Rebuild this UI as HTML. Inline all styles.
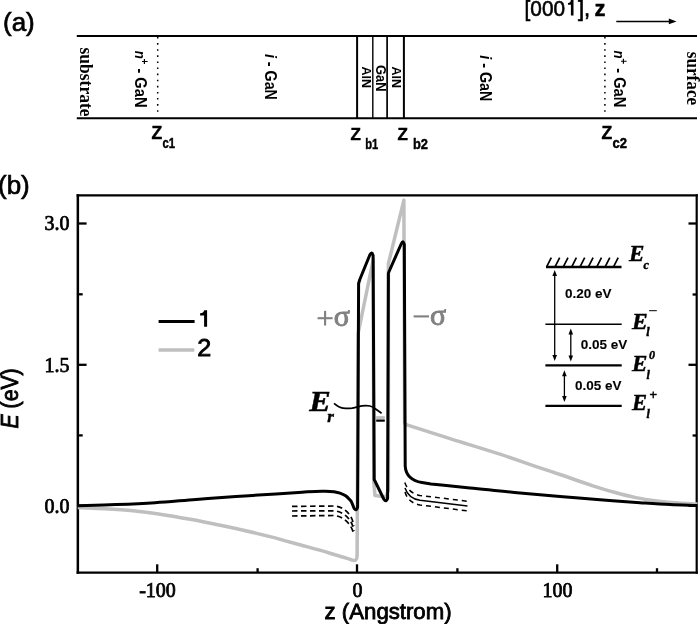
<!DOCTYPE html>
<html><head><meta charset="utf-8"><title>Figure</title>
<style>
html,body{margin:0;padding:0;background:#fff;}
body{width:700px;height:624px;overflow:hidden;}
svg{display:block;filter:grayscale(1);}
.sans{font-family:"Liberation Sans",sans-serif;}
.serif{font-family:"Liberation Serif",serif;}
text{stroke:#000;stroke-width:0.45px;}
.rot text{stroke-width:0;}
.thin text{stroke-width:0.1px;}
.tl text{stroke-width:0.75px;}
.gray text{stroke:#808080;}
</style></head>
<body>
<svg width="700" height="624" viewBox="0 0 700 624">
<!-- ========== (a) structure ========== -->
<text class="sans" x="3" y="31.3" font-size="26" style="stroke-width:0.7px">(a)</text>
<text class="sans" x="524.6" y="15.7" font-size="22" textLength="40.5" lengthAdjust="spacingAndGlyphs" style="stroke-width:0.6px">[000</text>
<path d="M570.9 0 L573.5 0 L573.5 15.6 L570.9 15.6 L570.9 4.8 L568 4.8 L568 3 C569.8 2.9 570.7 2 570.9 0 Z" fill="#000"/>
<text class="sans" x="578" y="15.7" font-size="22" style="stroke-width:0.6px">],</text>
<text class="sans" font-weight="bold" x="594.4" y="15.7" font-size="22">z</text>
<line x1="616.3" y1="21.4" x2="670" y2="21.4" stroke="#000" stroke-width="1.5"/>
<path d="M676.5 21.4 L668.8 18.6 L668.8 24.2 Z" fill="#000"/>

<g stroke="#000" fill="none">
<line x1="76.8" y1="36" x2="697" y2="36" stroke-width="2"/>
<line x1="76.8" y1="118.25" x2="697" y2="118.25" stroke-width="2.2"/>
<line x1="357.1" y1="35" x2="357.1" y2="118.5" stroke-width="2"/>
<line x1="372.8" y1="35" x2="372.8" y2="118.5" stroke-width="1.4"/>
<line x1="387.1" y1="35" x2="387.1" y2="118.5" stroke-width="1.7"/>
<line x1="403.9" y1="35" x2="403.9" y2="118.5" stroke-width="2"/>
<line x1="157.7" y1="37" x2="157.7" y2="116" stroke-width="1.5" stroke-dasharray="1.6 4.5"/>
<line x1="604.9" y1="37" x2="604.9" y2="116" stroke-width="1.5" stroke-dasharray="1.6 4.5"/>
</g>
<!-- rotated labels -->
<g class="rot">
<text class="serif" font-weight="bold" font-size="19" textLength="69" lengthAdjust="spacingAndGlyphs" transform="translate(79.5,47.5) rotate(90)">substrate</text>
<text class="sans" font-weight="bold" font-size="16" transform="translate(134.9,50.7) rotate(90) scale(0.92,1)"><tspan font-style="italic" font-size="14.5">n</tspan><tspan font-size="11" dy="-6.5" dx="-0.5">+</tspan><tspan dy="6.5"> - GaN</tspan></text>
<text class="sans" font-weight="bold" font-size="16.8" transform="translate(265.4,53.9) rotate(90) scale(0.85,1)"><tspan font-style="italic">i</tspan> - GaN</text>
<text class="sans" font-weight="bold" font-size="12.5" transform="translate(361.7,66.5) rotate(90)">AlN</text>
<text class="sans" font-weight="bold" font-size="14" transform="translate(376.2,65) rotate(90) scale(0.92,1)">GaN</text>
<text class="sans" font-weight="bold" font-size="12.5" transform="translate(392.2,66.5) rotate(90)">AlN</text>
<text class="sans" font-weight="bold" font-size="16.8" transform="translate(479.7,55.3) rotate(90) scale(0.85,1)"><tspan font-style="italic">i</tspan> - GaN</text>
<text class="sans" font-weight="bold" font-size="16" transform="translate(614,50.5) rotate(90) scale(0.92,1)"><tspan font-style="italic" font-size="14.5">n</tspan><tspan font-size="11" dy="-6.5" dx="-0.5">+</tspan><tspan dy="6.5"> - GaN</tspan></text>
<text class="serif" font-weight="bold" font-size="18.5" textLength="53.5" lengthAdjust="spacingAndGlyphs" transform="translate(687.1,51.7) rotate(90)">surface</text>
</g>

<!-- Z labels -->
<g class="sans" font-weight="bold">
<text x="151.6" y="139" font-size="17.5">Z</text><text x="162.6" y="147.5" font-size="14" textLength="12.5" lengthAdjust="spacingAndGlyphs">c1</text>
<text x="350.5" y="140" font-size="17">Z</text><text x="365.2" y="148.6" font-size="14" textLength="13" lengthAdjust="spacingAndGlyphs">b1</text>
<text x="397.4" y="140" font-size="17">Z</text><text x="413" y="148.6" font-size="14" textLength="15" lengthAdjust="spacingAndGlyphs">b2</text>
<text x="601.5" y="138.8" font-size="17.5">Z</text><text x="612.5" y="147.5" font-size="14" textLength="14.5" lengthAdjust="spacingAndGlyphs">c2</text>
</g>

<!-- ========== (b) plot ========== -->
<text class="sans" x="-2" y="194" font-size="26" style="stroke-width:0.7px">(b)</text>

<!-- axes frame -->
<g stroke="#000" fill="none">
<line x1="77.85" y1="194.2" x2="77.85" y2="573.8" stroke-width="2.5"/>
<line x1="696.7" y1="194.2" x2="696.7" y2="573.8" stroke-width="2.2"/>
<line x1="76.6" y1="195.45" x2="697.8" y2="195.45" stroke-width="2.3"/>
<line x1="76.6" y1="572.7" x2="697.8" y2="572.7" stroke-width="2.2"/>
</g>
<!-- y ticks left -->
<g stroke="#000" stroke-width="2.3">
<line x1="77.5" y1="223.5" x2="86.6" y2="223.5"/>
<line x1="77.5" y1="294.3" x2="82.7" y2="294.3"/>
<line x1="77.5" y1="364.8" x2="86.6" y2="364.8"/>
<line x1="77.5" y1="435.4" x2="82.7" y2="435.4"/>
<line x1="77.5" y1="505.8" x2="86.6" y2="505.8"/>
<!-- right -->
<line x1="696.7" y1="223.5" x2="688.5" y2="223.5"/>
<line x1="696.7" y1="294.5" x2="692.6" y2="294.5"/>
<line x1="696.7" y1="364.8" x2="688.5" y2="364.8"/>
<line x1="696.7" y1="435.5" x2="692.6" y2="435.5"/>
<line x1="696.7" y1="505.8" x2="688.5" y2="505.8"/>
<!-- x ticks -->
<line x1="157.2" y1="572.7" x2="157.2" y2="564.3"/>
<line x1="257.6" y1="572.7" x2="257.6" y2="568.2"/>
<line x1="357" y1="572.7" x2="357" y2="564.3"/>
<line x1="457.4" y1="572.7" x2="457.4" y2="568.2"/>
<line x1="557.2" y1="572.7" x2="557.2" y2="564.3"/>
<line x1="657" y1="572.7" x2="657" y2="568.2"/>
</g>
<!-- tick labels -->
<g class="serif tl" font-size="20" text-anchor="end">
<text x="69.5" y="230">3.0</text>
<text x="69.5" y="371.5">1.5</text>
<text x="69.5" y="512.7">0.0</text>
</g>
<g class="serif tl" font-size="20" text-anchor="middle">
<text x="157.5" y="596.5">-100</text>
<text x="357.5" y="596.5">0</text>
<text x="557.5" y="596.5">100</text>
</g>
<!-- axis titles -->
<text class="sans" x="324.6" y="619.2" font-size="21.5" textLength="127" lengthAdjust="spacingAndGlyphs" style="stroke-width:0.8px">z (Angstrom)</text>
<text class="sans" font-size="23" textLength="60" lengthAdjust="spacingAndGlyphs" style="stroke-width:0.9px" transform="translate(17.6,428.4) rotate(-90)"><tspan font-style="italic">E</tspan> (eV)</text>

<!-- curve 2 (gray) -->
<path fill="none" stroke="#bfbfbf" stroke-width="3.5" stroke-linejoin="round"
d="M77.80 507.60 C86.73 507.97, 95.67 508.21, 104.60 508.70 C114.10 509.22, 123.60 509.75, 133.10 510.70 C142.63 511.65, 152.17 512.97, 161.70 514.40 C171.23 515.83, 180.77 517.53, 190.30 519.30 C199.83 521.07, 209.37 523.02, 218.90 525.00 C225.93 526.46, 232.97 527.93, 240.00 529.50 C250.00 531.73, 260.00 534.05, 270.00 536.60 C280.00 539.15, 290.00 542.03, 300.00 544.80 C310.00 547.57, 320.00 550.24, 330.00 553.20 C336.00 554.98, 342.00 556.87, 348.00 558.70 L352 560 Q357 562.3 357.1 555.5 L358.2 333 L373.2 259.8 L373.8 482 L375 495.5 L386 497 L388.4 490 L388.4 263.6 L403.9 200.2 L404.6 423 L406.9 424.9 C421.27 429.47, 435.63 434.07, 450.00 438.60 C466.67 443.85, 483.33 448.74, 500.00 454.20 C513.33 458.57, 526.67 463.31, 540.00 467.80 C546.67 470.04, 553.33 472.25, 560.00 474.50 C570.97 478.21, 581.93 482.30, 592.90 485.80 C600.03 488.08, 607.17 490.33, 614.30 492.30 C621.43 494.27, 628.57 496.15, 635.70 497.60 C642.83 499.05, 649.97 500.08, 657.10 501.00 C664.27 501.92, 671.43 502.61, 678.60 503.10 C684.90 503.53, 691.20 503.63, 697.50 503.90"/>

<!-- curve 1 (black) -->
<path fill="none" stroke="#000" stroke-width="3" stroke-linejoin="round"
d="M77.80 505.80 C90.53 505.40, 103.27 505.11, 116.00 504.60 C129.00 504.08, 142.00 503.53, 155.00 502.70 C168.67 501.82, 182.33 500.44, 196.00 499.40 C209.33 498.38, 222.67 497.42, 236.00 496.50 C249.33 495.58, 262.67 494.77, 276.00 493.90 C284.67 493.33, 293.33 492.69, 302.00 492.20 C308.67 491.82, 315.33 491.15, 322.00 491.20 C326.00 491.23, 330.00 491.02, 334.00 491.70 C336.00 492.04, 338.00 492.38, 340.00 493.10 C342.00 493.82, 344.00 494.45, 346.00 496.00 C347.67 497.29, 349.33 499.40, 351.00 501.10 C352.6 503.8, 353.6 507.5, 354.3 508.6 Q356.4 511.5 357.6 507 L358.6 283.5 L359.8 279.5 L369.8 255 Q372 250.8 373.1 255.5 L374.2 479.5 L384 499.5 Q386.2 502.6 387.6 498.5 L388.4 273 L401.4 243.5 Q403.2 239.6 404.3 244.5 L405.2 466 C405.8 476, 413 481, 422 482.6 L431 484 C444.00 485.30, 457.00 486.59, 470.00 487.90 C486.67 489.58, 503.33 491.46, 520.00 493.00 C533.33 494.23, 546.67 495.28, 560.00 496.40 C573.33 497.52, 586.67 498.65, 600.00 499.70 C613.33 500.75, 626.67 501.79, 640.00 502.70 C650.00 503.38, 660.00 504.11, 670.00 504.60 C679.17 505.05, 688.33 505.27, 697.50 505.60"/>

<!-- dashed lines left -->
<g fill="none" stroke="#000" stroke-width="1.7" stroke-dasharray="5.5 3.5">
<path d="M292 506.4 L334 506 C340 506.5, 345 509, 349 514 C351.5 517, 353 521, 354 526"/>
<path d="M292 511 L334 510.8 C340 511.3, 345 514, 349 519 C351.5 522, 353 526, 354 531"/>
<path d="M292 516 L334 515.5 C340 516, 345 519, 349 524 C351.5 527, 353 531, 354 535"/>
</g>
<!-- dashed lines right -->
<g fill="none" stroke="#000" stroke-width="1.5">
<path stroke-dasharray="5 4" d="M404.8 482.5 C407 489, 412 494, 420 495.4 L467.5 501.3"/>
<path d="M405 487.9 C407 494, 412 499, 420 500.2 L467.5 506.1"/>
<path stroke-dasharray="5 4" d="M405 492 C407 499, 412 503.5, 420 505 L467.5 510.9"/>
</g>

<!-- level markers in well -->
<rect x="376.2" y="416.1" width="8.6" height="3.5" fill="#bfbfbf"/>
<rect x="376.2" y="419.6" width="8.6" height="2.1" fill="#000"/>
<!-- Er pointer -->
<path d="M334 403.4 C337 406, 339.5 407.8, 343 408.1 C346 408.4, 349 408.5, 352 408.2 C355 407.8, 358 406.5, 362 405.9 C365 405.6, 368 405.6, 370 406 C372.5 406.6, 374 407.7, 376 409.2 L381.6 413.3" fill="none" stroke="#000" stroke-width="1.7"/>
<text class="serif" font-weight="bold" font-style="italic" x="309.2" y="410.8" font-size="28.5" textLength="21.5" lengthAdjust="spacingAndGlyphs">E</text>
<text class="serif" font-weight="bold" font-style="italic" x="327.2" y="422.2" font-size="17">r</text>

<!-- sigma labels -->
<g stroke="#808080" stroke-width="2.1">
<line x1="317.6" y1="318.2" x2="332.6" y2="318.2"/>
<line x1="325.1" y1="310.9" x2="325.1" y2="325.5"/>
<line x1="413.6" y1="316.4" x2="429" y2="316.4"/>
</g>
<g class="serif" fill="#808080" font-size="30">
<text x="333.7" y="326.3" style="stroke:#808080;stroke-width:0.9px">σ</text>
<text x="430" y="325" style="stroke:#808080;stroke-width:0.9px">σ</text>
</g>

<!-- legend -->
<line x1="158.6" y1="321.4" x2="194.6" y2="321.4" stroke="#000" stroke-width="3"/>
<line x1="158.6" y1="350" x2="194.3" y2="350" stroke="#bfbfbf" stroke-width="3.5"/>
<path d="M204.1 310.3 L207.1 310.3 L207.1 326.8 L204.1 326.8 L204.1 315.4 L200.1 315.4 L200.1 313.2 C202.6 313.1 203.8 312.2 204.1 310.3 Z" fill="#000"/>
<text class="sans" x="197.2" y="355.7" font-size="23" textLength="14" lengthAdjust="spacingAndGlyphs" style="stroke-width:0.8px">2</text>

<!-- inset energy levels -->
<g stroke="#000" fill="none">
<line x1="546" y1="267" x2="621.5" y2="267" stroke-width="2.6"/>
<path stroke-width="1.7" d="M546.6 266.8 L551.3 257.6 M555.0 266.8 L559.7 257.6 M563.3 266.8 L568.0 257.6 M571.7 266.8 L576.4 257.6 M580.0 266.8 L584.7 257.6 M588.4 266.8 L593.1 257.6 M596.8 266.8 L601.5 257.6 M605.1 266.8 L609.8 257.6 M613.5 266.8 L618.2 257.6"/>
<line x1="545.4" y1="324.2" x2="621.7" y2="324.2" stroke-width="1.6"/>
<line x1="545.4" y1="365.4" x2="621.7" y2="365.4" stroke-width="2.2"/>
<line x1="545.4" y1="405.8" x2="621.7" y2="405.8" stroke-width="2.2"/>
<line x1="554.7" y1="274" x2="554.7" y2="357" stroke-width="1.3"/>
<line x1="570.8" y1="332.5" x2="570.8" y2="357.5" stroke-width="1.3"/>
<line x1="564.4" y1="374" x2="564.4" y2="398" stroke-width="1.3"/>
</g>
<g fill="#000">
<path d="M554.7 270 L552.4 276 L557 276 Z"/>
<path d="M554.7 361 L552.4 355 L557 355 Z"/>
<path d="M570.8 328.5 L568.5 334.5 L573.1 334.5 Z"/>
<path d="M570.8 361.5 L568.5 355.5 L573.1 355.5 Z"/>
<path d="M564.4 370.2 L562.1 376.2 L566.7 376.2 Z"/>
<path d="M564.4 401.9 L562.1 395.9 L566.7 395.9 Z"/>
</g>
<g class="sans thin" font-weight="bold" font-size="13.5">
<text x="565" y="298.1">0.20 eV</text>
<text x="580.8" y="349">0.05 eV</text>
<text x="575" y="390.4">0.05 eV</text>
</g>
<g class="serif" font-weight="bold" font-style="italic">
<text x="629" y="261" font-size="23">E</text><text x="643.5" y="268.7" font-size="12">c</text>
<text x="632" y="328.7" font-size="23.5">E</text><text x="646.3" y="336.4" font-size="12">l</text>
<text x="632" y="370.5" font-size="23">E</text><text x="646.5" y="378.5" font-size="12">l</text>
<text x="632" y="409.8" font-size="22.5">E</text><text x="646.5" y="418.3" font-size="12">l</text>
</g>
<line x1="649.1" y1="310.7" x2="656.8" y2="310.7" stroke="#000" stroke-width="1"/>
<text class="serif" font-style="italic" font-weight="bold" x="649" y="359" font-size="12">0</text>
<text class="sans" x="649.5" y="399" font-size="13">+</text>
</svg>
</body></html>
